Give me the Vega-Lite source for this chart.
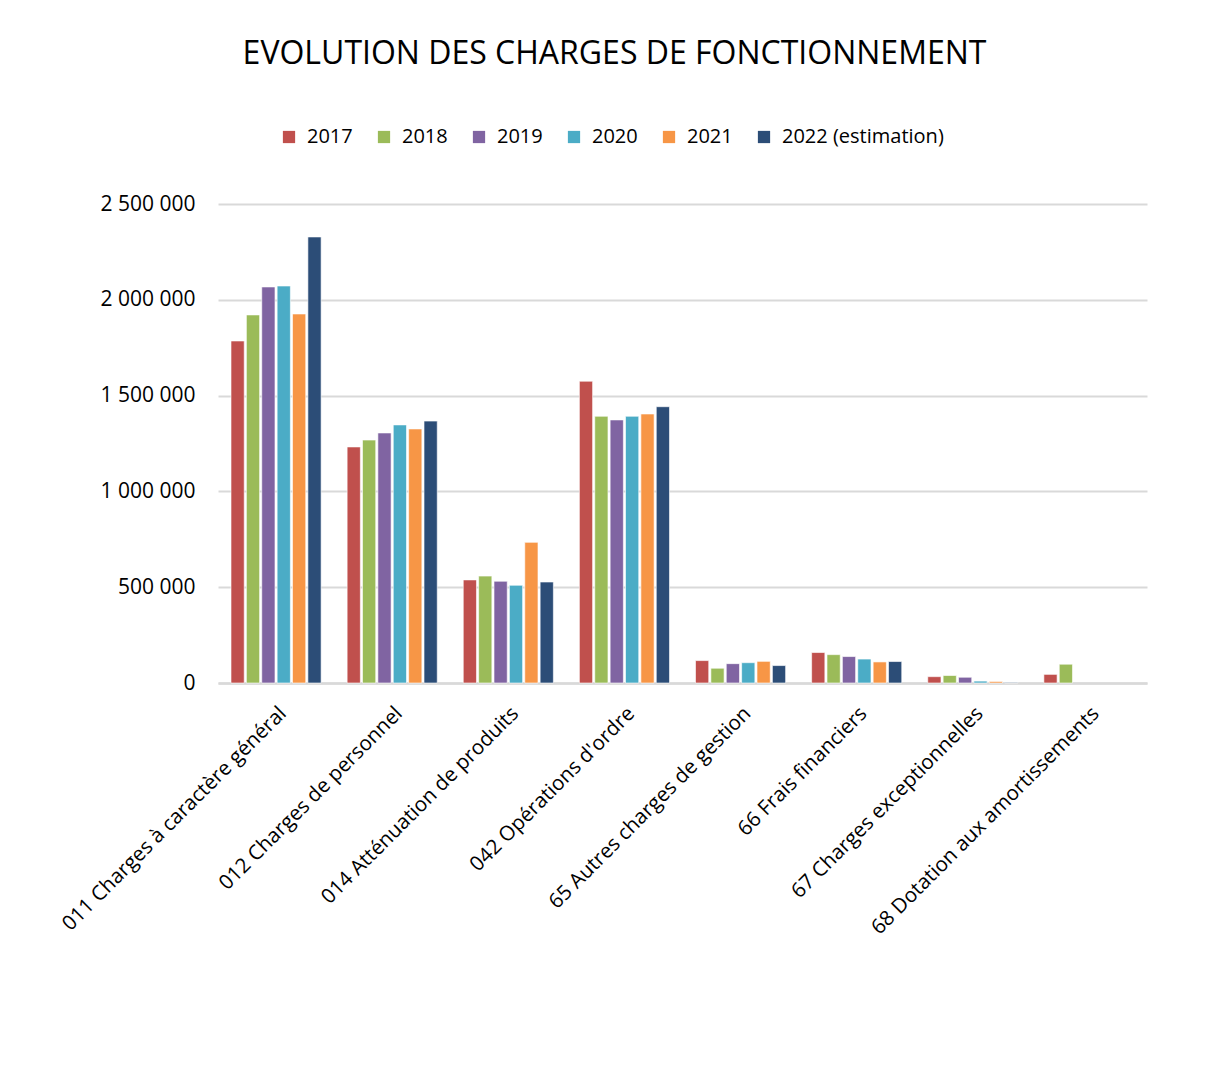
{
  "$schema": "https://vega.github.io/schema/vega-lite/v6.json",
  "width": 929,
  "height": 479,
  "autosize": {"type": "none"},
  "padding": {"left": 218, "top": 204, "right": 64, "bottom": 394},
  "background": "white",
  "title": {
    "text": "EVOLUTION DES CHARGES DE FONCTIONNEMENT",
    "font": "Open Sans",
    "fontSize": 32,
    "fontWeight": "normal",
    "color": "#000000",
    "anchor": "middle",
    "frame": "group",
    "dx": -68,
    "offset": 56
  },
  "config": {
    "locale": {"number": {"decimal": ",", "thousands": " ", "grouping": [3], "currency": ["", " €"]}},
    "view": {"stroke": null},
    "font": "Open Sans"
  },
  "data": {
    "values": [
      {"chapitre": "011 Charges à caractère général", "annee": "2017", "montant": 1785000},
      {"chapitre": "011 Charges à caractère général", "annee": "2018", "montant": 1921000},
      {"chapitre": "011 Charges à caractère général", "annee": "2019", "montant": 2067000},
      {"chapitre": "011 Charges à caractère général", "annee": "2020", "montant": 2072000},
      {"chapitre": "011 Charges à caractère général", "annee": "2021", "montant": 1926000},
      {"chapitre": "011 Charges à caractère général", "annee": "2022 (estimation)", "montant": 2328000},
      {"chapitre": "012 Charges de personnel", "annee": "2017", "montant": 1232000},
      {"chapitre": "012 Charges de personnel", "annee": "2018", "montant": 1268000},
      {"chapitre": "012 Charges de personnel", "annee": "2019", "montant": 1305000},
      {"chapitre": "012 Charges de personnel", "annee": "2020", "montant": 1347000},
      {"chapitre": "012 Charges de personnel", "annee": "2021", "montant": 1326000},
      {"chapitre": "012 Charges de personnel", "annee": "2022 (estimation)", "montant": 1367000},
      {"chapitre": "014 Atténuation de produits", "annee": "2017", "montant": 538000},
      {"chapitre": "014 Atténuation de produits", "annee": "2018", "montant": 558000},
      {"chapitre": "014 Atténuation de produits", "annee": "2019", "montant": 531000},
      {"chapitre": "014 Atténuation de produits", "annee": "2020", "montant": 510000},
      {"chapitre": "014 Atténuation de produits", "annee": "2021", "montant": 734000},
      {"chapitre": "014 Atténuation de produits", "annee": "2022 (estimation)", "montant": 527000},
      {"chapitre": "042 Opérations d'ordre", "annee": "2017", "montant": 1575000},
      {"chapitre": "042 Opérations d'ordre", "annee": "2018", "montant": 1392000},
      {"chapitre": "042 Opérations d'ordre", "annee": "2019", "montant": 1373000},
      {"chapitre": "042 Opérations d'ordre", "annee": "2020", "montant": 1392000},
      {"chapitre": "042 Opérations d'ordre", "annee": "2021", "montant": 1404000},
      {"chapitre": "042 Opérations d'ordre", "annee": "2022 (estimation)", "montant": 1442000},
      {"chapitre": "65 Autres charges de gestion", "annee": "2017", "montant": 117000},
      {"chapitre": "65 Autres charges de gestion", "annee": "2018", "montant": 77000},
      {"chapitre": "65 Autres charges de gestion", "annee": "2019", "montant": 101000},
      {"chapitre": "65 Autres charges de gestion", "annee": "2020", "montant": 106000},
      {"chapitre": "65 Autres charges de gestion", "annee": "2021", "montant": 113000},
      {"chapitre": "65 Autres charges de gestion", "annee": "2022 (estimation)", "montant": 91000},
      {"chapitre": "66 Frais financiers", "annee": "2017", "montant": 159000},
      {"chapitre": "66 Frais financiers", "annee": "2018", "montant": 148000},
      {"chapitre": "66 Frais financiers", "annee": "2019", "montant": 138000},
      {"chapitre": "66 Frais financiers", "annee": "2020", "montant": 125000},
      {"chapitre": "66 Frais financiers", "annee": "2021", "montant": 110000},
      {"chapitre": "66 Frais financiers", "annee": "2022 (estimation)", "montant": 112000},
      {"chapitre": "67 Charges exceptionnelles", "annee": "2017", "montant": 33000},
      {"chapitre": "67 Charges exceptionnelles", "annee": "2018", "montant": 39000},
      {"chapitre": "67 Charges exceptionnelles", "annee": "2019", "montant": 30000},
      {"chapitre": "67 Charges exceptionnelles", "annee": "2020", "montant": 10000},
      {"chapitre": "67 Charges exceptionnelles", "annee": "2021", "montant": 8000},
      {"chapitre": "67 Charges exceptionnelles", "annee": "2022 (estimation)", "montant": 3000},
      {"chapitre": "68 Dotation aux amortissements", "annee": "2017", "montant": 45000},
      {"chapitre": "68 Dotation aux amortissements", "annee": "2018", "montant": 98000}
    ]
  },
  "mark": {"type": "bar", "stroke": "white", "strokeOpacity": 0.6, "strokeWidth": 1},
  "encoding": {
    "x": {
      "field": "chapitre",
      "type": "nominal",
      "sort": null,
      "title": null,
      "scale": {"paddingInner": 0.224, "paddingOuter": 0.112},
      "axis": {
        "labelAngle": -45,
        "labelFont": "Open Sans",
        "labelFontSize": 20.5,
        "labelColor": "#000000",
        "labelPadding": 20,
        "labelDx": -17,
        "labelDy": -5,
        "labelLimit": 500,
        "ticks": false,
        "domainColor": "#D9D9D9",
        "domainWidth": 2.5
      }
    },
    "xOffset": {
      "field": "annee",
      "type": "nominal",
      "scale": {"paddingInner": 0.14, "paddingOuter": 0}
    },
    "y": {
      "field": "montant",
      "type": "quantitative",
      "title": null,
      "scale": {"domain": [0, 2500000], "nice": false},
      "axis": {
        "values": [0, 500000, 1000000, 1500000, 2000000, 2500000],
        "format": ",d",
        "labelFont": "Open Sans",
        "labelFontSize": 21,
        "labelColor": "#000000",
        "labelPadding": 23,
        "ticks": false,
        "domain": false,
        "gridColor": "#D9D9D9",
        "gridWidth": 2
      }
    },
    "color": {
      "field": "annee",
      "type": "nominal",
      "scale": {
        "domain": ["2017", "2018", "2019", "2020", "2021", "2022 (estimation)"],
        "range": ["#C0504D", "#9BBB59", "#8064A2", "#4BACC6", "#F79646", "#2C4D77"]
      },
      "legend": {
        "orient": "none",
        "legendX": 61,
        "legendY": -77,
        "direction": "horizontal",
        "columns": 6,
        "title": null,
        "symbolType": "square",
        "symbolSize": 150,
        "symbolStrokeWidth": 0,
        "labelFont": "Open Sans",
        "labelFontSize": 20,
        "labelColor": "#000000",
        "labelOffset": 8,
        "columnPadding": 21,
        "labelLimit": 400
      }
    }
  }
}
